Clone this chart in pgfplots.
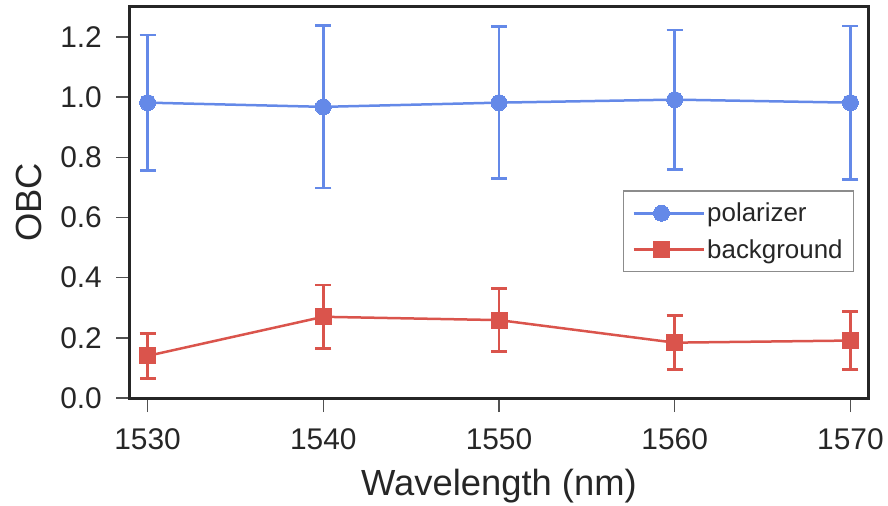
\documentclass[border=0pt]{standalone}
\usepackage{pgfplots}
\pgfplotsset{compat=1.18}
\usetikzlibrary{calc}
\usepackage{fontspec}
\setmainfont{Liberation Sans}
\definecolor{cblue}{RGB}{100,137,232}
\definecolor{cred}{RGB}{218,84,76}
\definecolor{axisdark}{RGB}{38,38,38}
\begin{document}
\begin{tikzpicture}
\begin{axis}[
  name=ax,
  scale only axis,
  width=738bp, height=391bp,
  xmin=1529, xmax=1571, ymin=0, ymax=1.3,
  xtick={1530,1540,1550,1560,1570},
  ytick={0,0.2,0.4,0.6,0.8,1.0,1.2},
  /pgf/number format/assume math mode=true,
  xticklabel style={/pgf/number format/set thousands separator={}, font=\fontsize{30}{36}\selectfont, text=axisdark, anchor=base, inner sep=0pt, yshift=-37bp},
  yticklabel style={/pgf/number format/fixed, /pgf/number format/fixed zerofill, /pgf/number format/precision=1, font=\fontsize{30}{36}\selectfont, text=axisdark, anchor=east, inner sep=0pt, xshift=-14bp},
  tick align=outside,
  major tick length=14bp,
  tick style={line width=1.5bp, color=axisdark!80},
  xtick pos=bottom, ytick pos=left,
  axis line style={line width=3bp, color=axisdark},
  xlabel={Wavelength (nm)},
  ylabel={OBC},
  xlabel style={at={(axis description cs:0.5,0)}, anchor=base, inner sep=0pt, yshift=-97bp},
  ylabel style={at={(axis description cs:0,0.5)}, anchor=south, inner sep=0pt, yshift=88bp},
  label style={font=\fontsize{36.5}{42}\selectfont, text=axisdark},
  legend style={at={(0.668,0.531)}, anchor=north west, draw=gray!90, line width=1.5bp, fill=white,
    font=\fontsize{26}{30}\selectfont, text=axisdark, row sep=12bp, inner xsep=9bp, inner ysep=10bp},
  legend cell align=left,
  legend image code/.code={\draw[mark repeat=2,mark phase=2,#1] plot coordinates {(0bp,0bp) (27.5bp,0bp) (55bp,0bp)};\path (0bp,0bp) -- (70bp,0bp);},
  every axis plot/.append style={line width=2.5bp},
]
\addplot[cblue, mark=*, mark size=8bp, mark options={solid, fill=cblue, draw=cblue, line width=0pt},
  error bars/.cd, y dir=both, y explicit,
  error bar style={line width=2.5bp, cblue},
  error mark options={rotate=90, mark size=8bp, line width=2.5bp, cblue}]
coordinates {
(1530,0.982) +- (0,0.225)
(1540,0.968) +- (0,0.270)
(1550,0.982) +- (0,0.253)
(1560,0.992) +- (0,0.232)
(1570,0.982) +- (0,0.255)
};
\addlegendentry{polarizer}
\addplot[cred, mark=square*, mark size=8bp, mark options={solid, fill=cred, draw=cred, line width=0pt},
  error bars/.cd, y dir=both, y explicit,
  error bar style={line width=2.5bp, cred},
  error mark options={rotate=90, mark size=8bp, line width=2.5bp, cred}]
coordinates {
(1530,0.140) +- (0,0.075)
(1540,0.270) +- (0,0.105)
(1550,0.259) +- (0,0.105)
(1560,0.184) +- (0,0.090)
(1570,0.191) +- (0,0.097)
};
\addlegendentry{background}
\end{axis}
\pgfresetboundingbox
\useasboundingbox ($(ax.south west)+(-130bp,-108bp)$) rectangle ($(ax.north east)+(20bp,7bp)$);
\end{tikzpicture}
\end{document}
